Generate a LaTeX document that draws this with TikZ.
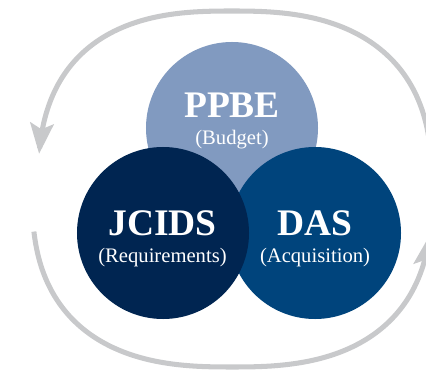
\documentclass[tikz,border=0pt]{standalone}
\usepackage{fontspec}
\setmainfont{Liberation Serif}
\usetikzlibrary{arrows.meta}
\definecolor{ppbeblue}{RGB}{129,154,192}
\definecolor{jcidsblue}{RGB}{0,37,81}
\definecolor{dasblue}{RGB}{0,68,124}
\definecolor{cyclegray}{RGB}{200,201,203}
\begin{document}
\begin{tikzpicture}[x=0.03cm,y=-0.03cm,
  bubble/.style={circle,minimum size=5.16cm,inner sep=0pt},
  title/.style={anchor=base,text=white,font=\fontsize{32}{33}\selectfont\bfseries},
  sub/.style={anchor=base,text=white,font=\fontsize{17.6}{18}\selectfont},
  cyclearrow/.style={draw=cyclegray,line width=4.3pt,-{Stealth[length=26pt,width=20pt,inset=5pt]}}]
\useasboundingbox (0,0) rectangle (426,371);
\clip (0,0) rectangle (426,371);
\draw[cyclearrow] plot[domain=-8:173,samples=120] ({232+(197+3*cos(\x))*cos(\x)*pow(abs(cos(\x))+0.00001,-0.23)},{189-178*sin(\x)*pow(abs(sin(\x))+0.00001,-0.23)});
\draw[cyclearrow] plot[domain=189:350,samples=120] ({232+200*cos(\x)*pow(abs(cos(\x))+0.00001,-0.23)},{189-178*sin(\x)*pow(abs(sin(\x))+0.00001,-0.23)});
\node[bubble,fill=ppbeblue](PPBE) at (232,128){};
\node[bubble,fill=dasblue](DAS) at (315,233){};
\node[bubble,fill=jcidsblue](JCIDS) at (163,233){};
\node[title](PPBEt) at (232,118){PPBE};
\node[sub](PPBEs) at (232,145){(Budget)};
\node[title](JCIDSt) at (162.5,235){JCIDS};
\node[sub](JCIDSs) at (162.5,262.5){(Requirements)};
\node[title](DASt) at (315,235){DAS};
\node[sub](DASs) at (315,262.5){(Acquisition)};
\end{tikzpicture}
\end{document}
